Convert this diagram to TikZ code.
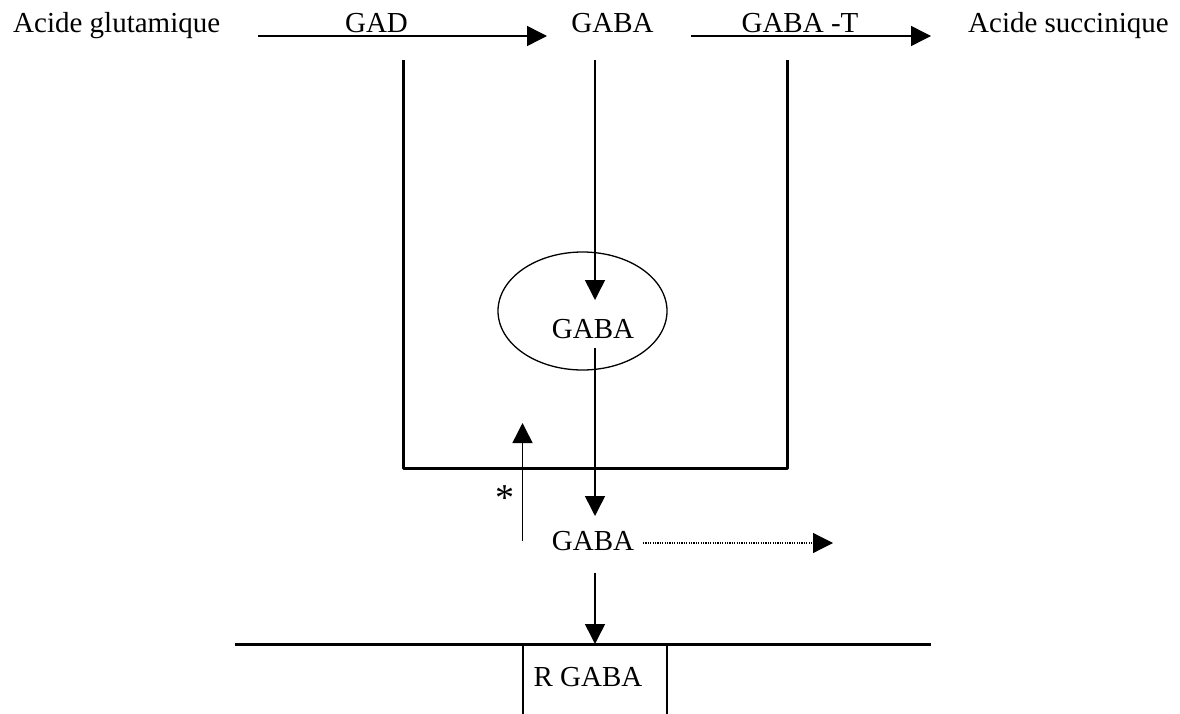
\documentclass[tikz,border=0pt]{standalone}
\usepackage{fontspec}
\setmainfont{Liberation Serif}
\usetikzlibrary{arrows.meta,shapes.geometric}
\tikzset{
  lbl/.style={font=\fontsize{29}{34}\selectfont, inner sep=0pt, anchor=base},
  arr/.style={line width=1.5pt, -{Triangle[length=20pt,width=20pt]}},
  dotarr/.style={line width=1.2pt, dash pattern=on 1.2pt off 1.2pt, -{Triangle[length=20pt,width=20pt]}},
  wall/.style={line width=3pt},
  thinwall/.style={line width=1.6pt}
}
\begin{document}
\begin{tikzpicture}[x=1pt,y=-1pt]
\useasboundingbox (0,0) rectangle (1180,714);
% texts
\node[lbl, anchor=base west] (acg) at (13,33) {Acide glutamique};
\node[lbl] (gad) at (376.5,33) {GAD};
\node[lbl] (gabaA) at (612.5,33) {GABA};
\node[lbl] (gabat) at (800,33) {GABA -T};
\node[lbl, anchor=base west] (acs) at (968,33) {Acide succinique};
\node[draw, ellipse, line width=1.3pt, minimum width=169pt, minimum height=118pt, inner sep=0pt] (ves) at (582.5,311) {};
\node[lbl] (gabaB) at (593,338) {GABA};
\node[lbl] (gabaC) at (593,550) {GABA};
\node[lbl] (rgaba) at (588,686) {R GABA};
\node[font=\fontsize{38}{40}\selectfont, inner sep=0pt] (ast) at (505,498) {*};
% coordinates
\coordinate (a1s) at (258,36);
\coordinate (a1e) at (547,36);
\coordinate (a2s) at (691,36);
\coordinate (a2e) at (931,36);
\coordinate (c1s) at (595,60);
\coordinate (c1e) at (595,300);
\coordinate (c2s) at (595,348);
\coordinate (c2e) at (595,516);
\coordinate (ups) at (522.5,541);
\coordinate (upe) at (522.5,423);
\coordinate (ds) at (643,543);
\coordinate (de) at (833,543);
\coordinate (c3s) at (595,573);
\coordinate (c3e) at (595,644);
\coordinate (wl) at (403,60);
\coordinate (wbl) at (403,468);
\coordinate (wbr) at (787,468);
\coordinate (wr) at (787,60);
\coordinate (ml) at (235,644);
\coordinate (mr) at (931,644);
\coordinate (rl1) at (523,644);
\coordinate (rl2) at (523,714);
\coordinate (rr1) at (667,644);
\coordinate (rr2) at (667,714);
% cell walls
\draw[wall, line join=round] (wl) -- (wbl) -- (wbr) -- (wr);
\draw[wall] (ml) -- (mr);
\draw[thinwall] (rl1) -- (rl2);
\draw[thinwall] (rr1) -- (rr2);
% arrows
\draw[arr] (a1s) -- (a1e);
\draw[arr] (a2s) -- (a2e);
\draw[arr] (c1s) -- (c1e);
\draw[arr] (c2s) -- (c2e);
\draw[arr] (ups) -- (upe);
\draw[dotarr] (ds) -- (de);
\draw[arr] (c3s) -- (c3e);
\end{tikzpicture}
\end{document}
